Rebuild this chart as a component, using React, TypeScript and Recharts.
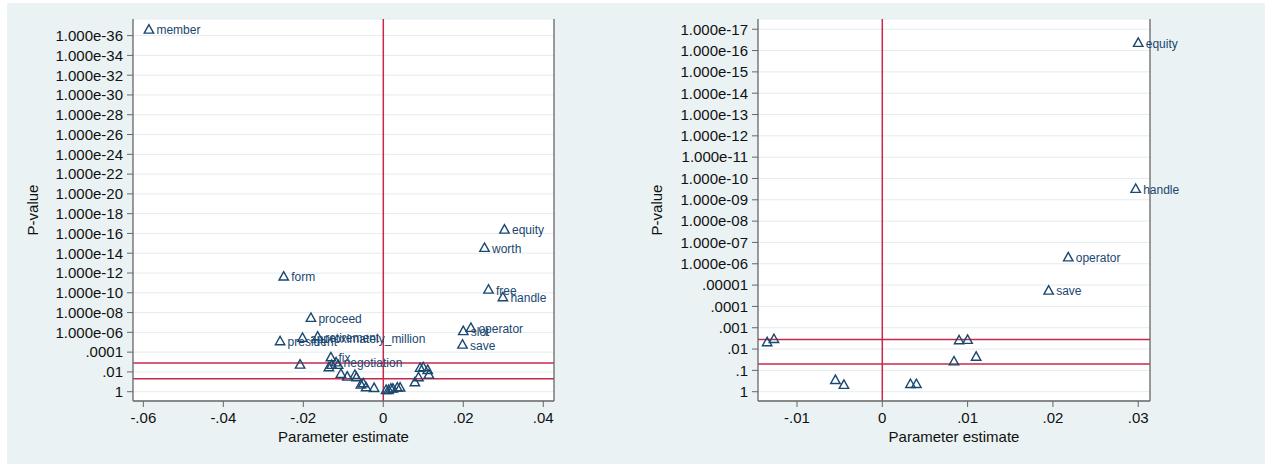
import React from "react";
import {
  ScatterChart,
  Scatter,
  XAxis,
  YAxis,
  CartesianGrid,
  ReferenceLine,
} from "recharts";

const NAVY = "#1a476f";
const RED = "#c8284c";
const AXIS = "#666666";
const BG = "#eaf2f3";
const FONT = "'Liberation Sans', Arial, Helvetica, sans-serif";

// left panel: 40 tests (bonferroni .00125)
const leftWords = [
  "member", "form", "proceed", "president", "approximately_million", "retirement",
  "fix", "negotiation", "equity", "worth", "free", "handle", "slot", "operator", "save",
  "", "", "", "", "", "", "", "", "", "", "", "",
  "", "", "", "", "", "",
  "", "", "", "", "", "",
];
const leftEstimates = [
  -0.0586, -0.0249, -0.0181, -0.0258, -0.0202, -0.0164,
  -0.0131, -0.0118, 0.0303, 0.0253, 0.0263, 0.0299, 0.02, 0.0219, 0.0198,
  -0.0208, -0.0136, -0.0129, -0.0113, -0.0106, -0.009, -0.0071, -0.0067, -0.0056, -0.005, -0.0043, -0.0023,
  0.0007, 0.0013, 0.0019, 0.0024, 0.0035, 0.0042,
  0.0079, 0.0088, 0.0092, 0.01, 0.0111, 0.0114,
];
// -log10(p)
const leftNegLogP = [
  36.67, 11.7, 7.52, 5.16, 5.5, 5.63,
  3.54, 3.03, 16.45, 14.6, 10.38, 9.61, 6.19, 6.51, 4.82,
  2.8, 2.53, 2.77, 2.77, 1.86, 1.59, 1.76, 1.52, 0.78, 0.91, 0.51, 0.44,
  0.24, 0.24, 0.37, 0.37, 0.48, 0.48,
  1.01, 1.52, 2.47, 2.53, 2.26, 1.79,
];
const leftYTicks = [0, 2, 4, 6, 8, 10, 12, 14, 16, 18, 20, 22, 24, 26, 28, 30, 32, 34, 36];
const leftXTicks = [-0.06, -0.04, -0.02, 0, 0.02, 0.04];
const leftCutoffs = [0.00125, 0.05];
const leftCutoffLabels = [".00125", ".05"];

// right panel: 14 tests (bonferroni .00357143)
const rightWords = ["equity", "handle", "operator", "save", "", "", "", "", "", "", "", "", "", ""];
const rightEstimates = [
  0.03, 0.0297, 0.0218, 0.0195,
  -0.0135, -0.0127, -0.0055, -0.0045, 0.0033, 0.004, 0.009, 0.01, 0.0084, 0.011,
];
const rightNegLogP = [
  16.39, 9.54, 6.33, 4.77,
  2.35, 2.5, 0.58, 0.35, 0.39, 0.39, 2.44, 2.46, 1.45, 1.67,
];
const rightYTicks = [0, 1, 2, 3, 4, 5, 6, 7, 8, 9, 10, 11, 12, 13, 14, 15, 16, 17];
const rightXTicks = [-0.01, 0, 0.01, 0.02, 0.03];
const rightCutoffs = [0.00357143, 0.05];
const rightCutoffLabels = [".00357143", ".05"];

const pLabel = (v: number) => {
  if (v === 0) return "1";
  if (v <= 5) return "." + "0".repeat(v - 1) + "1";
  return `1.000e-${String(v).padStart(2, "0")}`;
};
const xLabel = (v: number) => (v === 0 ? "0" : v.toFixed(2).replace("0.", "."));

function Triangle(props: any) {
  const { cx, cy, payload } = props;
  return (
    <g>
      <polygon
        points={`${cx},${cy - 4.3} ${cx - 4.7},${cy + 4.1} ${cx + 4.7},${cy + 4.1}`}
        fill="none"
        stroke={NAVY}
        strokeWidth={1.4}
      />
      {payload.word ? (
        <text x={cx + 7.5} y={cy + 5.5} fontSize={12} fill={NAVY} fontFamily={FONT}>
          {payload.word}
        </text>
      ) : null}
    </g>
  );
}

type PanelProps = {
  width: number;
  words: string[];
  est: number[];
  nlp: number[];
  yTicks: number[];
  xTicks: number[];
  cutoffs: number[];
  cutoffLabels: string[];
  xDomain: [number, number];
  yDomain: [number, number];
  leftW: number;
  rightW: number;
  titleX: number;
};

function Panel(p: PanelProps) {
  const data = p.est.map((x, i) => ({ x, y: p.nlp[i], word: p.words[i] }));
  const cut = p.cutoffs.map((c) => -Math.log10(c));
  const tick = { fontSize: 15, fill: "#111", fontFamily: FONT };
  return (
    <ScatterChart width={p.width} height={461} margin={{ top: 16, right: 0, bottom: 0, left: 0 }}>
      <CartesianGrid yAxisId="l" vertical={false} stroke="#e3ecee" fill="#ffffff" />
      <XAxis
        type="number"
        dataKey="x"
        domain={p.xDomain}
        ticks={p.xTicks}
        interval={0}
        tickFormatter={xLabel}
        height={63}
        tick={tick}
        tickSize={6}
        tickMargin={5}
        axisLine={{ stroke: AXIS, strokeWidth: 1.3 }}
        tickLine={{ stroke: AXIS }}
        label={(lp: any) => {
          const vb = lp.viewBox;
          return (
            <text x={vb.x + vb.width / 2} y={438.5} textAnchor="middle" fontSize={15} fill="#111" fontFamily={FONT}>
              Parameter estimate
            </text>
          );
        }}
      />
      <YAxis
        yAxisId="l"
        type="number"
        dataKey="y"
        domain={p.yDomain}
        ticks={p.yTicks}
        interval={0}
        tickFormatter={pLabel}
        width={p.leftW}
        tick={tick}
        tickSize={6}
        tickMargin={4}
        axisLine={{ stroke: AXIS, strokeWidth: 1.3 }}
        tickLine={{ stroke: AXIS }}
        label={() => {
          const cy = 207;
          return (
            <text
              x={p.titleX}
              y={cy}
              transform={`rotate(-90, ${p.titleX}, ${cy})`}
              textAnchor="middle"
              fontSize={15}
              fill="#111"
              fontFamily={FONT}
            >
              P-value
            </text>
          );
        }}
      />
      <YAxis
        yAxisId="r"
        orientation="right"
        type="number"
        domain={p.yDomain}
        ticks={cut}
        interval={0}
        tickFormatter={(v: number) => p.cutoffLabels[cut.indexOf(v)]}
        width={p.rightW}
        tick={tick}
        tickSize={6}
        tickMargin={3}
        axisLine={{ stroke: AXIS, strokeWidth: 1.3 }}
        tickLine={{ stroke: AXIS }}
      />
      {cut.map((c) => (
        <ReferenceLine key={c} yAxisId="l" y={c} stroke={RED} strokeWidth={1.5} />
      ))}
      <ReferenceLine yAxisId="l" x={0} stroke={RED} strokeWidth={1.5} />
      <Scatter yAxisId="l" data={data} shape={<Triangle />} isAnimationActive={false} />
    </ScatterChart>
  );
}

export default function App() {
  return (
    <div
      style={{
        position: "absolute",
        left: 7,
        top: 3,
        width: 1258,
        height: 461,
        background: BG,
        display: "flex",
        fontFamily: FONT,
      }}
    >
      <Panel
        width={620}
        words={leftWords}
        est={leftEstimates}
        nlp={leftNegLogP}
        yTicks={leftYTicks}
        xTicks={leftXTicks}
        cutoffs={leftCutoffs}
        cutoffLabels={leftCutoffLabels}
        xDomain={[-0.06258, 0.04268]}
        yDomain={[-0.94, 37.68]}
        leftW={126}
        rightW={73}
        titleX={31}
      />
      <Panel
        width={638}
        words={rightWords}
        est={rightEstimates}
        nlp={rightNegLogP}
        yTicks={rightYTicks}
        xTicks={rightXTicks}
        cutoffs={rightCutoffs}
        cutoffLabels={rightCutoffLabels}
        xDomain={[-0.01457, 0.03138]}
        yDomain={[-0.436, 17.48]}
        leftW={131}
        rightW={115}
        titleX={34.5}
      />
    </div>
  );
}
